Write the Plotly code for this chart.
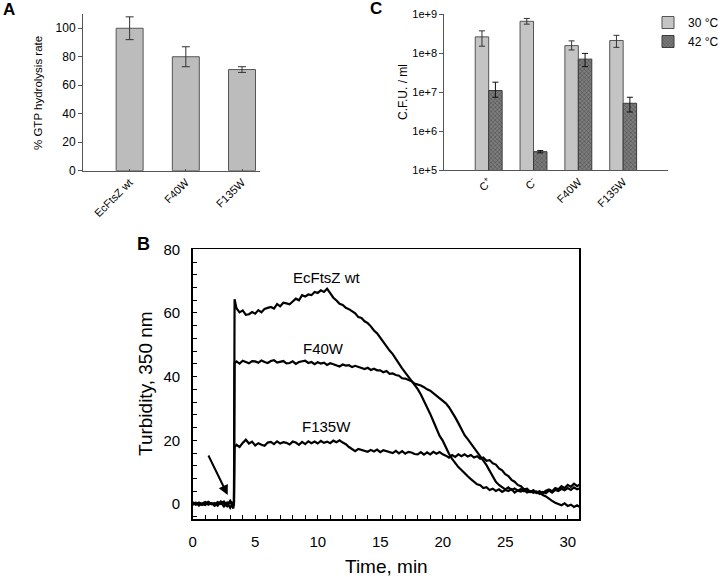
import plotly.graph_objects as go

FONT = "Liberation Sans, Arial, sans-serif"

# ---------------- Panel A data ----------------
a_categories = ["EcFtsZ wt", "F40W", "F135W"]
a_values = [100, 80, 71]
a_errors = [8, 7, 2]

# ---------------- Panel C data ----------------
c_categories = ["C<sup>+</sup>", "C<sup>-</sup>", "F40W", "F135W"]
c_30 = [2.6e8, 6.5e8, 1.55e8, 2.1e8]
c_30_hi = [3.7e8, 7.7e8, 2.05e8, 2.85e8]
c_30_lo = [1.5e8, 5.5e8, 1.2e8, 1.4e8]
c_42 = [1.1e7, 3.0e5, 7.0e7, 5.2e6]
c_42_hi = [1.8e7, 3.2e5, 9.8e7, 7.4e6]
c_42_lo = [7.4e6, 2.8e5, 4.5e7, 3.1e6]
c_ticks = [1e5, 1e6, 1e7, 1e8, 1e9]
c_ticklabels = ["1e+5", "1e+6", "1e+7", "1e+8", "1e+9"]

# ---------------- Panel B data ----------------
time_min = [0, 0.25, 0.5, 0.75, 1, 1.25, 1.5, 1.75, 2, 2.25, 2.5, 2.75, 3, 3.25,
            3.3, 3.35,
            3.5, 3.75,
            4, 4.25, 4.5, 4.75, 5, 5.25, 5.5, 5.75, 6, 6.25, 6.5, 6.75,
            7, 7.25, 7.5, 7.75, 8, 8.25, 8.5, 8.75, 9, 9.25, 9.5, 9.75,
            10, 10.25, 10.5, 10.75, 11, 11.25, 11.5, 11.75, 12, 12.25, 12.5, 12.75,
            13, 13.25, 13.5, 13.75, 14, 14.25, 14.5, 14.75, 15, 15.25, 15.5, 15.75,
            16, 16.25, 16.5, 16.75, 17, 17.25, 17.5, 17.75, 18, 18.25, 18.5, 18.75,
            19, 19.25, 19.5, 19.75, 20, 20.25, 20.5, 20.75, 21, 21.25, 21.5, 21.75,
            22, 22.25, 22.5, 22.75, 23, 23.25, 23.5, 23.75, 24, 24.25, 24.5, 24.75,
            25, 25.25, 25.5, 25.75, 26, 26.25, 26.5, 26.75, 27, 27.25, 27.5, 27.75,
            28, 28.25, 28.5, 28.75, 29, 29.25, 29.5, 29.75, 30, 30.25, 30.5, 30.75,
            31]

turb_wt = [0.3, -0.2, 0.4, 0.1, -0.3, 0.5, 0.2, -0.1, 0.6, 0.0, 0.8, -0.4, 1.0, -0.6,
           0.2, 64.3,
           61.5, 60.2,
           60.8, 59.4, 59.6, 60.3, 59.8, 60.9, 60.2, 61.3, 61.6, 61.9, 61.4, 62.8,
           62.1, 63.2, 63.0, 62.7, 63.6, 64.5, 64.0, 65.6, 65.2, 65.8, 65.6, 66.6,
           66.3, 67.1, 66.6, 67.6, 66.2, 64.8, 63.9, 62.9, 62.5, 61.6, 61.2, 60.4,
           59.9, 58.7, 58.4, 57.4, 56.8, 55.8, 54.5, 53.6, 52.2, 50.8, 49.7, 48.2,
           47.1, 45.4, 44.1, 42.6, 41.3, 40.0, 38.9, 37.6, 36.1, 34.4, 32.5, 30.6,
           28.3, 26.0, 23.7, 21.4, 19.9, 17.6, 15.8, 14.2, 12.9, 11.6, 10.7, 9.6,
           8.7, 7.8, 7.1, 6.2, 5.9, 5.0, 5.3, 4.4, 4.8, 4.1, 4.6, 3.8,
           4.4, 4.1, 4.7, 3.6, 4.2, 3.9, 4.4, 3.6, 4.0, 3.5, 3.9, 3.2,
           3.8, 3.4, 4.2, 3.6, 4.4, 4.1, 4.8, 4.3, 5.0, 4.4, 5.2, 4.6,
           5.0]

turb_f40w = [-0.3, 0.4, -0.5, 0.2, 0.6, -0.2, 0.3, -0.6, 0.1, 0.5, -0.8, 0.4, -1.2, 0.6,
             -0.4, 44.2,
             44.8, 44.1,
             45.0, 44.6, 44.2, 44.9, 44.8, 44.4, 45.1, 44.6, 44.3, 44.9, 45.2, 44.4,
             44.7, 44.9, 44.2, 44.3, 44.8, 44.0, 44.6, 44.9, 45.0, 44.3, 44.6, 43.9,
             44.5, 44.1, 44.4, 43.7, 44.2, 43.9, 43.6, 43.2, 43.8, 43.5, 43.6, 43.0,
             43.4, 43.0, 42.8, 42.4, 42.8, 42.1, 42.5, 42.0, 42.0, 41.4, 41.8, 40.9,
             41.0, 40.5, 40.3, 39.5, 39.4, 38.9, 38.6, 37.8, 37.6, 37.2, 36.7, 36.0,
             35.6, 34.8, 34.3, 33.4, 32.7, 31.6, 30.4, 29.0, 27.2, 25.4, 23.6, 21.6,
             20.4, 19.0, 17.6, 16.0, 14.8, 13.6, 12.2, 10.4, 8.8, 7.0, 6.0, 5.4,
             4.6, 5.2, 4.4, 4.9, 4.2, 4.7, 4.0, 4.5, 3.8, 4.3, 3.6, 4.0,
             3.4, 4.2, 4.6, 4.0, 5.0, 4.6, 5.6, 5.0, 6.0, 5.4, 6.4, 5.6,
             6.2]

turb_f135w = [0.6, 0.0, 0.4, -0.3, 0.2, 0.7, -0.1, 0.3, -0.5, 0.8, 0.2, -0.7, 0.9, -1.4,
              0.5, 17.8,
              18.6, 17.9,
              19.2, 20.2, 19.0, 19.6, 18.4, 19.1, 18.6, 18.3, 19.3, 19.5, 18.8, 19.7,
              19.0, 19.4, 19.2, 18.7, 19.6, 19.3, 18.6, 19.5, 18.8, 19.7, 19.1, 19.6,
              19.0, 19.8, 19.2, 19.6, 19.1, 19.9, 19.4, 20.0, 19.3, 18.8, 17.9, 17.2,
              16.6, 17.3, 17.0, 16.8, 16.4, 17.0, 16.5, 17.1, 16.3, 16.9, 16.6, 16.2,
              16.0, 16.7, 15.9, 16.6, 15.8, 16.4, 16.2, 15.7, 15.6, 16.3, 15.5, 16.2,
              15.6, 16.4, 15.8, 16.3, 15.6, 15.2, 14.6, 15.4, 14.8, 15.6, 15.0, 15.6,
              14.9, 15.4, 14.6, 15.0, 14.2, 14.6, 13.6, 13.8, 12.8, 12.4, 11.2, 10.6,
              9.4, 8.8, 7.6, 7.0, 6.0, 5.6, 4.6, 4.8, 3.8, 4.2, 3.4, 3.6,
              2.8, 2.4, 1.6, 1.0, 0.4, 0.0, -0.4, 0.2, -0.6, -0.2, -0.9, -0.4,
              -1.0]

W, H = 720, 577


def px_x(p):
    return p / W


def px_y(p):
    return 1 - p / H


fig = go.Figure()

# ---- Panel A bars ----
fig.add_trace(go.Bar(
    x=a_categories, y=a_values, width=0.48,
    marker=dict(color="#bcbcbc", line=dict(color="#555555", width=1)),
    error_y=dict(type="data", array=a_errors, color="#333333", thickness=1, width=4),
    xaxis="x", yaxis="y", showlegend=False))

# ---- Panel C bars ----
fig.add_trace(go.Bar(
    x=c_categories, y=c_30, width=0.3, offset=-0.3, name="30 °C",
    marker=dict(color="#c4c4c4", line=dict(color="#555555", width=1)),
    error_y=dict(type="data", symmetric=False,
                 array=[h - v for h, v in zip(c_30_hi, c_30)],
                 arrayminus=[v - l for l, v in zip(c_30_lo, c_30)],
                 color="#333333", thickness=1, width=3),
    xaxis="x2", yaxis="y2"))
fig.add_trace(go.Bar(
    x=c_categories, y=c_42, width=0.3, offset=0.0, name="42 °C",
    marker=dict(color="#6a6a6a", line=dict(color="#3a3a3a", width=1),
                pattern=dict(shape="x", fgcolor="#222222", bgcolor="#7c7c7c",
                             size=3, solidity=0.35)),
    error_y=dict(type="data", symmetric=False,
                 array=[h - v for h, v in zip(c_42_hi, c_42)],
                 arrayminus=[v - l for l, v in zip(c_42_lo, c_42)],
                 color="#111111", thickness=1, width=3),
    xaxis="x2", yaxis="y2"))

# ---- Panel B traces ----
for vals in (turb_wt, turb_f40w, turb_f135w):
    fig.add_trace(go.Scatter(
        x=time_min, y=vals, mode="lines",
        line=dict(color="black", width=2.2),
        xaxis="x3", yaxis="y3", showlegend=False))

axis_common = dict(showgrid=False, zeroline=False, fixedrange=True, automargin=False)

fig.update_layout(
    width=W, height=H, autosize=False,
    margin=dict(l=0, r=0, t=0, b=0, autoexpand=False),
    paper_bgcolor="white", plot_bgcolor="white",
    font=dict(family=FONT, color="black"),
    barmode="overlay",
    # Panel A axes
    xaxis=dict(domain=[px_x(83), px_x(260)], anchor="y", range=[-0.83, 2.32],
               showline=True, linecolor="#555555", linewidth=1,
               ticks="inside", ticklen=2, tickcolor="#555555",
               tickangle=-45, tickfont=dict(size=11), **axis_common),
    yaxis=dict(domain=[px_y(170.7), px_y(14)], anchor="x", range=[0, 110],
               showline=True, linecolor="#555555", linewidth=1,
               ticks="outside", ticklen=4, tickcolor="#555555",
               tickvals=[0, 20, 40, 60, 80, 100], tickfont=dict(size=12),
               **axis_common),
    # Panel C axes
    xaxis2=dict(domain=[px_x(444.3), px_x(668)], anchor="y2", range=[-0.99, 4.0],
                showline=True, linecolor="#555555", linewidth=1,
                ticks="", tickangle=-45, tickfont=dict(size=11), **axis_common),
    yaxis2=dict(domain=[px_y(170.3), px_y(14)], anchor="x2", type="log",
                range=[5, 9], showline=True, linecolor="#555555", linewidth=1,
                ticks="outside", ticklen=4, tickcolor="#555555",
                tickvals=c_ticks, ticktext=c_ticklabels, tickfont=dict(size=11),
                **axis_common),
    # Panel B axes
    xaxis3=dict(domain=[px_x(192.7), px_x(579)], anchor="y3", range=[0, 30.9],
                showline=True, mirror=True, linecolor="black", linewidth=1.5,
                ticks="inside", ticklen=4, tickcolor="black",
                tickvals=[0, 5, 10, 15, 20, 25, 30], tickfont=dict(size=15),
                minor=dict(dtick=1, ticks="inside", ticklen=4, tickcolor="black"),
                ticklabelstandoff=8, **axis_common),
    yaxis3=dict(domain=[px_y(519.3), px_y(249.3)], anchor="x3", range=[-4.8, 80],
                showline=True, mirror=True, linecolor="black", linewidth=1.5,
                ticks="inside", ticklen=4, tickcolor="black",
                tickvals=[0, 20, 40, 60, 80], tickfont=dict(size=15),
                minor=dict(dtick=4, ticks="inside", ticklen=4, tickcolor="black"),
                ticklabelstandoff=8, **axis_common),
    legend=dict(x=px_x(648), y=px_y(8), xanchor="left", yanchor="top",
                xref="container", yref="container",
                font=dict(size=12), bgcolor="rgba(0,0,0,0)",
                itemwidth=30, tracegroupgap=2),
)

ann = []


def label(text, x, y, size, angle=0):
    ann.append(dict(text=text, x=px_x(x), y=px_y(y), xref="paper", yref="paper",
                    xanchor="center", yanchor="middle", showarrow=False,
                    textangle=angle, font=dict(size=size)))


# Panel letters
label("<b>A</b>", 9, 10, 17)
label("<b>C</b>", 376, 9, 17)
label("<b>B</b>", 143, 244, 18)
# Axis titles
label("% GTP hydrolysis rate", 38, 93, 11.5, -90)
label("C.F.U. / ml", 403, 92, 12, -90)
label("Turbidity, 350 nm", 145, 384, 19, -90)
label("Time, min", 386, 566, 19)
# Curve labels
for txt, xx, yy in (("EcFtsZ wt", 10.7, 71.2), ("F40W", 10.5, 48.7), ("F135W", 10.7, 24.3)):
    ann.append(dict(text=txt, x=xx, y=yy, xref="x3", yref="y3", showarrow=False,
                    xanchor="center", yanchor="middle", font=dict(size=15)))
# Arrow
ann.append(dict(x=2.8, y=2.8, ax=1.2, ay=15.7, xref="x3", yref="y3",
                axref="x3", ayref="y3", showarrow=True, arrowhead=2,
                arrowsize=1, arrowwidth=2, arrowcolor="black", text=""))
fig.update_layout(annotations=ann)

fig.write_html("out.html", config={"displayModeBar": False, "staticPlot": True})

# remove the browser's default 8px body margin so the figure sits at the page origin
with open("out.html", "r", encoding="utf-8") as fh:
    html = fh.read()
html = html.replace("<body>", '<body style="margin:0;padding:0;overflow:hidden">', 1)
with open("out.html", "w", encoding="utf-8") as fh:
    fh.write(html)
